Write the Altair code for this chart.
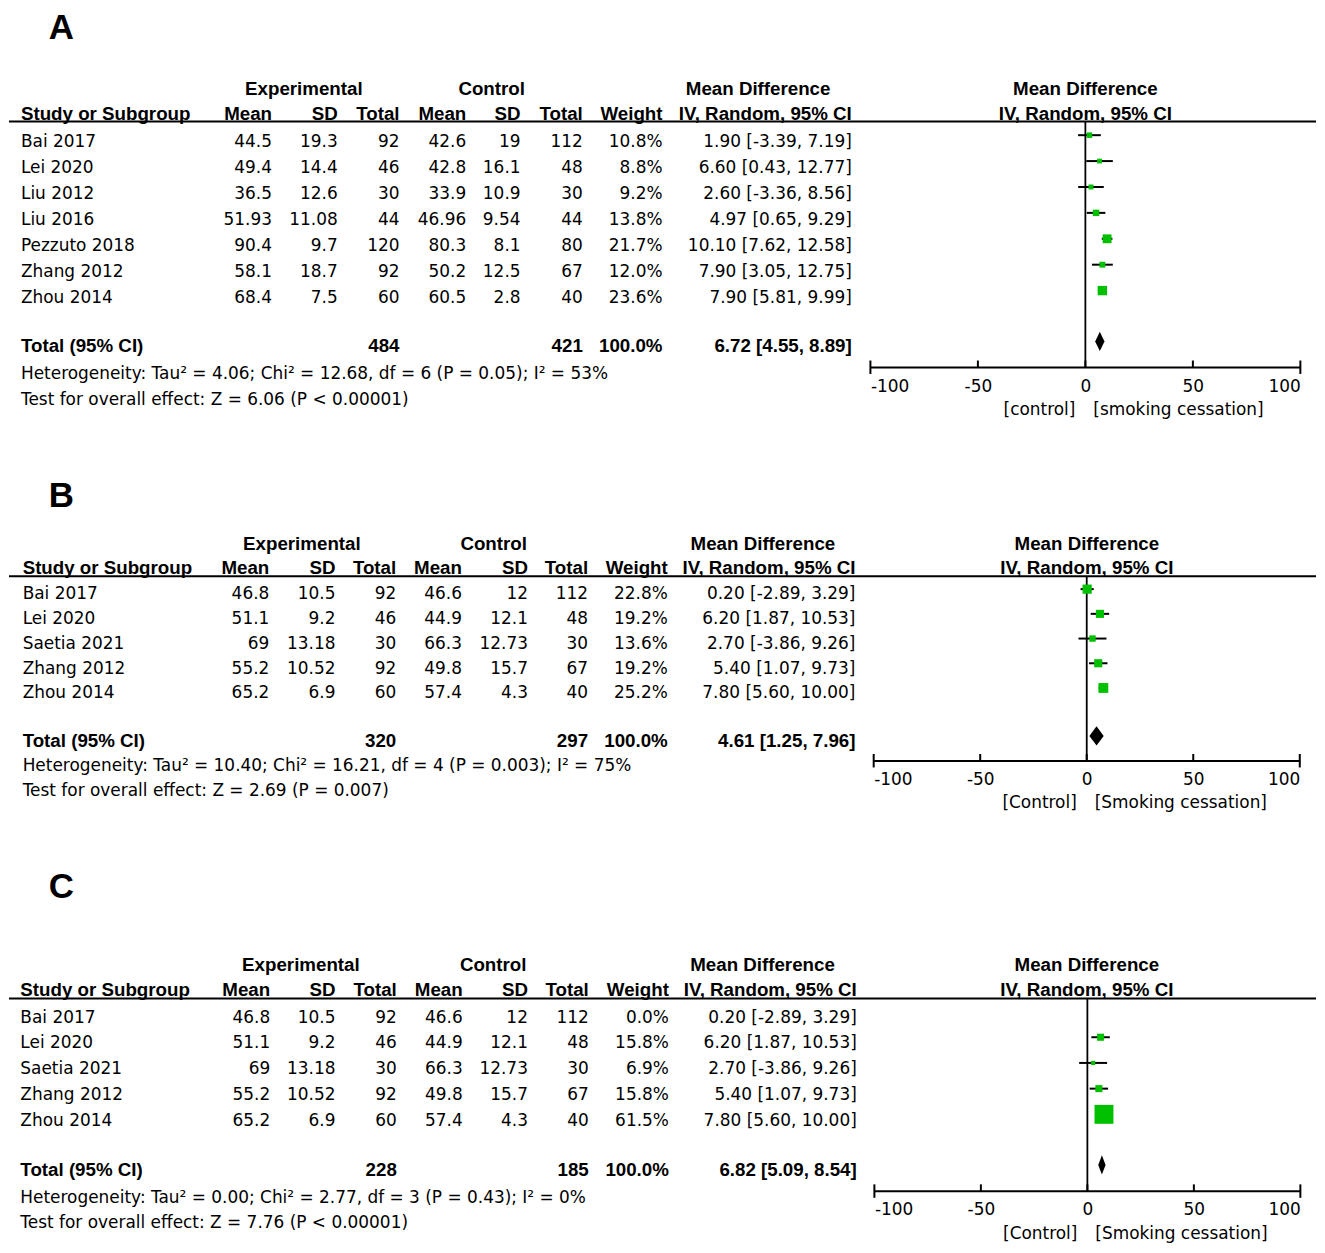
import altair as alt
import pandas as pd

# ------------------------------------------------------------------ data
A_study = ["Bai 2017", "Lei 2020", "Liu 2012", "Liu 2016", "Pezzuto 2018", "Zhang 2012", "Zhou 2014"]
A_exp_mean = ["44.5", "49.4", "36.5", "51.93", "90.4", "58.1", "68.4"]
A_exp_sd = ["19.3", "14.4", "12.6", "11.08", "9.7", "18.7", "7.5"]
A_exp_n = [92, 46, 30, 44, 120, 92, 60]
A_ctl_mean = ["42.6", "42.8", "33.9", "46.96", "80.3", "50.2", "60.5"]
A_ctl_sd = ["19", "16.1", "10.9", "9.54", "8.1", "12.5", "2.8"]
A_ctl_n = [112, 48, 30, 44, 80, 67, 40]
A_weight = [10.8, 8.8, 9.2, 13.8, 21.7, 12.0, 23.6]
A_md = [1.90, 6.60, 2.60, 4.97, 10.10, 7.90, 7.90]
A_lo = [-3.39, 0.43, -3.36, 0.65, 7.62, 3.05, 5.81]
A_hi = [7.19, 12.77, 8.56, 9.29, 12.58, 12.75, 9.99]
A_tot = [484, 421, 6.72, 4.55, 8.89]
A_het = "Heterogeneity: Tau\u00b2 = 4.06; Chi\u00b2 = 12.68, df = 6 (P = 0.05); I\u00b2 = 53%"
A_test = "Test for overall effect: Z = 6.06 (P < 0.00001)"
A_sides = ["[control]", "[smoking cessation]"]

B_study = ["Bai 2017", "Lei 2020", "Saetia 2021", "Zhang 2012", "Zhou 2014"]
B_exp_mean = ["46.8", "51.1", "69", "55.2", "65.2"]
B_exp_sd = ["10.5", "9.2", "13.18", "10.52", "6.9"]
B_exp_n = [92, 46, 30, 92, 60]
B_ctl_mean = ["46.6", "44.9", "66.3", "49.8", "57.4"]
B_ctl_sd = ["12", "12.1", "12.73", "15.7", "4.3"]
B_ctl_n = [112, 48, 30, 67, 40]
B_weight = [22.8, 19.2, 13.6, 19.2, 25.2]
B_md = [0.20, 6.20, 2.70, 5.40, 7.80]
B_lo = [-2.89, 1.87, -3.86, 1.07, 5.60]
B_hi = [3.29, 10.53, 9.26, 9.73, 10.00]
B_tot = [320, 297, 4.61, 1.25, 7.96]
B_het = "Heterogeneity: Tau\u00b2 = 10.40; Chi\u00b2 = 16.21, df = 4 (P = 0.003); I\u00b2 = 75%"
B_test = "Test for overall effect: Z = 2.69 (P = 0.007)"
B_sides = ["[Control]", "[Smoking cessation]"]

C_study = ["Bai 2017", "Lei 2020", "Saetia 2021", "Zhang 2012", "Zhou 2014"]
C_exp_mean = ["46.8", "51.1", "69", "55.2", "65.2"]
C_exp_sd = ["10.5", "9.2", "13.18", "10.52", "6.9"]
C_exp_n = [92, 46, 30, 92, 60]
C_ctl_mean = ["46.6", "44.9", "66.3", "49.8", "57.4"]
C_ctl_sd = ["12", "12.1", "12.73", "15.7", "4.3"]
C_ctl_n = [112, 48, 30, 67, 40]
C_weight = [0.0, 15.8, 6.9, 15.8, 61.5]
C_md = [0.20, 6.20, 2.70, 5.40, 7.80]
C_lo = [-2.89, 1.87, -3.86, 1.07, 5.60]
C_hi = [3.29, 10.53, 9.26, 9.73, 10.00]
C_tot = [228, 185, 6.82, 5.09, 8.54]
C_het = "Heterogeneity: Tau\u00b2 = 0.00; Chi\u00b2 = 2.77, df = 3 (P = 0.43); I\u00b2 = 0%"
C_test = "Test for overall effect: Z = 7.76 (P < 0.00001)"
C_sides = ["[Control]", "[Smoking cessation]"]

AXIS_TICKS = [-100, -50, 0, 50, 100]

PANELS = {
    "A": dict(study=A_study, em=A_exp_mean, esd=A_exp_sd, en=A_exp_n, cm=A_ctl_mean,
              csd=A_ctl_sd, cn=A_ctl_n, w=A_weight, md=A_md, lo=A_lo, hi=A_hi,
              tot=A_tot, het=A_het, test=A_test, sides=A_sides),
    "B": dict(study=B_study, em=B_exp_mean, esd=B_exp_sd, en=B_exp_n, cm=B_ctl_mean,
              csd=B_ctl_sd, cn=B_ctl_n, w=B_weight, md=B_md, lo=B_lo, hi=B_hi,
              tot=B_tot, het=B_het, test=B_test, sides=B_sides),
    "C": dict(study=C_study, em=C_exp_mean, esd=C_exp_sd, en=C_exp_n, cm=C_ctl_mean,
              csd=C_ctl_sd, cn=C_ctl_n, w=C_weight, md=C_md, lo=C_lo, hi=C_hi,
              tot=C_tot, het=C_het, test=C_test, sides=C_sides),
}

# ------------------------------------------------------------------ layout (page pixels)
MARGIN = 8
W = 1312
LAYOUT = {
    "A": dict(top=8, bottom=366, row0=133.3, step=26.0, toff=6.0,
              label_top=8.5, head1=85.5, head2=110.7, rule=119.5, total=344, diamond=340.3,
              het=372, test=398, foot=408.5, fx0=872.7, fx1=1304.3, lpad=12, rhead=1088.5,
              cols=dict(study=20, em=272, esd=338, en=400, cm=467, csd=521.5, cn=584,
                        w=664, ci=854, exp_c=304, ctl_c=492.5, md_c=760)),
    "B": dict(top=366, bottom=761, row0=589.0, step=24.8, toff=4.3,
              label_top=479, head1=542.3, head2=566.7, rule=576, total=740.7, diamond=736.3,
              het=766, test=791, foot=803, fx0=876.0, fx1=1303.7, lpad=11, rhead=1090,
              cols=dict(study=21.7, em=269.3, esd=335.7, en=396.7, cm=462.7, csd=529, cn=589.3,
                        w=669.3, ci=857.7, exp_c=302, ctl_c=494.5, md_c=764.8)),
    "C": dict(top=761, bottom=1193, row0=1013.0, step=25.8, toff=5.3,
              label_top=871, head1=965, head2=990, rule=1000, total=1171, diamond=1167,
              het=1199, test=1224.3, foot=1235, fx0=876.7, fx1=1304.3, lpad=10.5, rhead=1090,
              cols=dict(study=19.4, em=270.2, esd=335.7, en=397.3, cm=463.4, csd=528.9, cn=590,
                        w=670.4, ci=859, exp_c=301, ctl_c=494, md_c=764.4)),
}

GREEN = "#00c000"
REG = dict(font="DejaVu Sans", fontSize=17, color="black")
BOLD = dict(font="Liberation Sans", fontSize=18.8, fontWeight="bold", color="black")


def ci_text(md, lo, hi):
    return f"{md:.2f} [{lo:.2f}, {hi:.2f}]"


def build_panel(key):
    d = PANELS[key]
    L = LAYOUT[key]
    c = L["cols"]
    s, r0 = L["step"], L["row0"]

    def R(py):
        return (py - r0) / s

    def T(py):  # text centre -> row value (vega middle baseline correction)
        return R(py + 1)

    H = L["bottom"] - L["top"]
    yscale = alt.Scale(domain=[R(L["top"]), R(L["bottom"])], reverse=True, nice=False, zero=False)
    xpx = alt.Scale(domain=[0, W], nice=False, zero=False)
    xfp = alt.Scale(domain=[-100, 100], range=[L["fx0"] - MARGIN, L["fx1"] - MARGIN],
                    nice=False, zero=False)

    items = []

    def add(px, y, text, kind):
        items.append(dict(x=px - MARGIN, y=y, text=text, kind=kind))

    add(60.5, R(L["label_top"]), key, "label")
    add(c["exp_c"], T(L["head1"]), "Experimental", "bc")
    add(c["ctl_c"], T(L["head1"]), "Control", "bc")
    add(c["md_c"], T(L["head1"]), "Mean Difference", "bc")
    add(L["rhead"], T(L["head1"]), "Mean Difference", "bc")
    add(L["rhead"], T(L["head2"]), "IV, Random, 95% CI", "bc")
    add(c["study"], T(L["head2"]), "Study or Subgroup", "bl")
    for col, lab in [("em", "Mean"), ("esd", "SD"), ("en", "Total"), ("cm", "Mean"),
                     ("csd", "SD"), ("cn", "Total"), ("w", "Weight"), ("ci", "IV, Random, 95% CI")]:
        add(c[col], T(L["head2"]), lab, "br")
    for i, name in enumerate(d["study"]):
        yy = T(r0 + i * s + L["toff"])
        add(c["study"], yy, name, "rl")
        add(c["em"], yy, d["em"][i], "rr")
        add(c["esd"], yy, d["esd"][i], "rr")
        add(c["en"], yy, str(d["en"][i]), "rr")
        add(c["cm"], yy, d["cm"][i], "rr")
        add(c["csd"], yy, d["csd"][i], "rr")
        add(c["cn"], yy, str(d["cn"][i]), "rr")
        add(c["w"], yy, f"{d['w'][i]:.1f}%", "rr")
        add(c["ci"], yy, ci_text(d["md"][i], d["lo"][i], d["hi"][i]), "rr")
    tot = d["tot"]
    yt = T(L["total"])
    add(c["study"], yt, "Total (95% CI)", "bl")
    add(c["en"], yt, str(tot[0]), "br")
    add(c["cn"], yt, str(tot[1]), "br")
    add(c["w"], yt, "100.0%", "br")
    add(c["ci"], yt, ci_text(tot[2], tot[3], tot[4]), "br")
    add(c["study"], T(L["het"]), d["het"], "rl")
    add(c["study"], T(L["test"]), d["test"], "rl")
    tdf = pd.DataFrame(items)

    def tlayer(kind, baseline="middle", **mk):
        return alt.Chart(tdf).transform_filter(alt.datum.kind == kind).mark_text(
            baseline=baseline, **mk).encode(
            x=alt.X("x:Q", scale=xpx, axis=None),
            y=alt.Y("y:Q", scale=yscale, axis=None),
            text="text:N")

    layers = [
        tlayer("label", baseline="top", align="center", font="Liberation Sans", fontSize=35,
               fontWeight="bold", color="black"),
        tlayer("bc", align="center", **BOLD),
        tlayer("bl", align="left", **BOLD),
        tlayer("br", align="right", **BOLD),
        tlayer("rl", align="left", **REG),
        tlayer("rr", align="right", **REG),
    ]

    # header rule across the table
    hdf = pd.DataFrame({"x": [0], "x2": [W], "y": [R(L["rule"])]})
    layers.append(alt.Chart(hdf).mark_rule(color="black", strokeWidth=2).encode(
        x=alt.X("x:Q", scale=xpx, axis=None), x2="x2:Q",
        y=alt.Y("y:Q", scale=yscale, axis=None)))

    # zero line, carries the forest axis
    zdf = pd.DataFrame({"x": [0], "y": [R(L["rule"])], "y2": [R(L["bottom"])]})
    layers.append(alt.Chart(zdf).mark_rule(color="black", strokeWidth=1.8).encode(
        x=alt.X("x:Q", scale=xfp, axis=alt.Axis(
            values=AXIS_TICKS, ticks=False, tickSize=0, domain=True, domainColor="black",
            domainWidth=2, labelFlush=True, labelPadding=L["lpad"], labelFont="DejaVu Sans",
            labelFontSize=17, labelColor="black", labelExpr="'' + datum.value",
            grid=False, title=None, orient="bottom")),
        y=alt.Y("y:Q", scale=yscale, axis=None), y2="y2:Q"))

    # upward ticks
    kdf = pd.DataFrame({"x": AXIS_TICKS,
                        "y": [R(L["bottom"] - 6.5)] * len(AXIS_TICKS),
                        "y2": [R(L["bottom"] + (7 if abs(t) == 100 else 1)) for t in AXIS_TICKS]})
    layers.append(alt.Chart(kdf).mark_rule(color="black", strokeWidth=2).encode(
        x=alt.X("x:Q", scale=xfp, axis=None),
        y=alt.Y("y:Q", scale=yscale, axis=None), y2="y2:Q"))

    # study CIs and squares
    fdf = pd.DataFrame({"md": d["md"], "lo": d["lo"], "hi": d["hi"], "w": d["w"],
                        "y": list(range(len(d["md"])))})
    fdf = fdf[fdf["w"] > 0]
    layers.append(alt.Chart(fdf).mark_rule(color="black", strokeWidth=2).encode(
        x=alt.X("lo:Q", scale=xfp, axis=None), x2="hi:Q",
        y=alt.Y("y:Q", scale=yscale, axis=None)))
    layers.append(alt.Chart(fdf).mark_square(color=GREEN, opacity=1, filled=True).encode(
        x=alt.X("md:Q", scale=xfp, axis=None),
        y=alt.Y("y:Q", scale=yscale, axis=None),
        size=alt.Size("w:Q", scale=alt.Scale(type="pow", exponent=1.5, domain=[0, 61.5],
                                             range=[4, 361]), legend=None)))

    # pooled diamond
    rd = R(L["diamond"])
    hh = 9.7 / s
    ddf = pd.DataFrame({"x": [tot[3], tot[2], tot[4]],
                        "y": [rd, rd - hh, rd], "y2": [rd, rd + hh, rd]})
    layers.append(alt.Chart(ddf).mark_area(color="black", orient="vertical", opacity=1).encode(
        x=alt.X("x:Q", scale=xfp, axis=None),
        y=alt.Y("y:Q", scale=yscale, axis=None), y2="y2:Q"))

    # side labels under the axis
    sdf = pd.DataFrame({"x": [0, 0], "y": [T(L["foot"])] * 2, "text": d["sides"],
                        "side": ["l", "r"]})
    layers.append(alt.Chart(sdf).transform_filter(alt.datum.side == "l").mark_text(
        align="right", baseline="middle", dx=-10, **REG).encode(
        x=alt.X("x:Q", scale=xfp, axis=None),
        y=alt.Y("y:Q", scale=yscale, axis=None), text="text:N"))
    layers.append(alt.Chart(sdf).transform_filter(alt.datum.side == "r").mark_text(
        align="left", baseline="middle", dx=8, **REG).encode(
        x=alt.X("x:Q", scale=xfp, axis=None),
        y=alt.Y("y:Q", scale=yscale, axis=None), text="text:N"))

    return alt.layer(*layers).resolve_scale(x="independent").properties(width=W, height=H)


chart = alt.vconcat(build_panel("A"), build_panel("B"), build_panel("C"),
                    spacing=0, bounds="flush").resolve_scale(
    x="independent", y="independent", size="independent").properties(
    padding=0, background="white").configure_view(stroke=None)

chart.save("out.html", embed_options={"renderer": "svg", "actions": False})
